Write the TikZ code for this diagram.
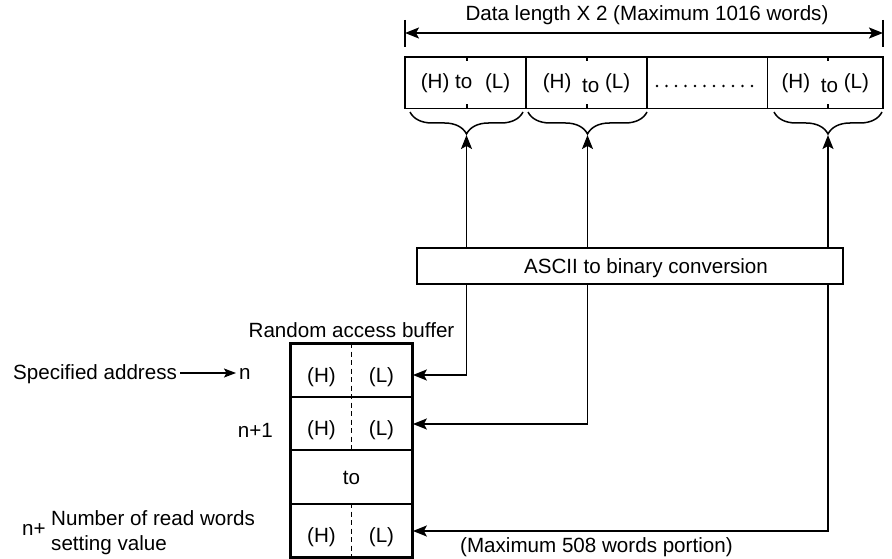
\documentclass[tikz,border=0pt]{standalone}
\usepackage{fontspec}
\setmainfont{Liberation Sans}
\usetikzlibrary{arrows.meta,decorations.pathreplacing,calc}
\begin{document}
\begin{tikzpicture}[x=1pt,y=-1pt,
  every node/.style={font=\fontsize{20.6}{24}\selectfont, inner sep=0pt},
  cell/.style={draw, line width=1.8pt, minimum width=121pt, minimum height=51.5pt},
  rowbox/.style={draw, line width=1.7pt, minimum width=121pt, minimum height=53pt},
  txt/.style={anchor=base},
  arr/.style={line width=1.4pt, -{Stealth[length=12pt,width=9pt,inset=2.5pt]}},
  darr/.style={line width=1.6pt, {Stealth[length=14pt,width=11pt,inset=3pt]}-{Stealth[length=14pt,width=11pt,inset=3pt]}},
  brc/.style={decorate, decoration={brace, mirror, amplitude=22pt}, line width=1.5pt},
  dashdiv/.style={line width=1.3pt, dash pattern=on 5pt off 3.5pt},
  tick/.style={line width=1.2pt},
]
\useasboundingbox (0,0) rectangle (892,559);

% dimension line
\coordinate (dl) at (405,33);
\coordinate (dr) at (883,33);
\draw[line width=1.6pt] (405,20) -- (405,47);
\draw[line width=1.6pt] (883,20) -- (883,47);
\draw[darr] (dl) -- (dr);
\node[txt] (dimtxt) at (647,21) {Data length X 2 (Maximum 1016 words)};

% top data cells
\node[cell] (c1) at (465.5,82.75) {(H) to\hspace{7pt} (L)};
\node[cell] (c2) at (586.5,82.75) {(H)\hspace{5pt} \smash{\raisebox{-4pt}{to}} (L)};
\node[cell] (c3) at (707,82.75) {};
\node[cell, minimum width=115.5pt] (c4) at (825.25,82.75) {(H)\hspace{5pt} \smash{\raisebox{-4pt}{to}} (L)};
\foreach \i in {0,...,10} \fill (657+9.5*\i,86) circle (1.3pt);
\foreach \x in {467,587,828} {
  \draw[tick] (\x,57) -- (\x,61);
  \draw[tick] (\x,104.5) -- (\x,108.5);
}

% braces
\draw[brc] (410,112) -- (523,112);
\draw[brc] (528,112) -- (647,112);
\draw[brc] (774,112) -- (882,112);
\coordinate (b1) at (466.5,135);
\coordinate (b2) at (587.5,135);
\coordinate (b3) at (828,135);

% random access buffer
\node[rowbox] (r1) at (351.5,370.5) {};
\node[rowbox] (r2) at (351.5,423.5) {};
\node[rowbox] (r3) at (351.5,477) {};
\node[rowbox] (r4) at (351.5,530.5) {};
\draw[line width=2.4pt] (r1.north west) rectangle (r4.south east);
\draw[dashdiv] (r1.north) -- (r2.south);
\draw[dashdiv] (r4.north) -- (r4.south);
\node[txt] (r1h) at (321.5,382) {(H)};
\node[txt] (r1l) at (381.5,382) {(L)};
\node[txt] (r2h) at (321.5,435) {(H)};
\node[txt] (r2l) at (381.5,435) {(L)};
\node[txt] (r3t) at (351.5,484) {to};
\node[txt] (r4h) at (321.5,542) {(H)};
\node[txt] (r4l) at (381.5,542) {(L)};

\node[txt] (rab) at (351.5,337) {Random access buffer};
\node[anchor=base west] (spec) at (13,379) {Specified address};
\node[anchor=base west] (nlab) at (239,379) {n};
\draw[arr] ($(spec.base east)+(3,-6)$) -- ($(nlab.base west)+(-3,-6)$);
\node[anchor=base east] (n1) at (273,437) {n+1};
\node[anchor=base west] (nplus) at (22,535) {n+};
\node[anchor=base west] (nrw1) at (51,525) {Number of read words};
\node[anchor=base west] (nrw2) at (51,550) {setting value};
\node[anchor=base west] (maxw) at (460,552) {(Maximum 508 words portion)};

% connectors
\draw[darr] ($(r1.east)+(0,4.5)$) -| (b1);
\draw[darr] ($(r2.east)+(0,0.5)$) -| (b2);
\draw[darr] ($(r4.east)+(0,0.5)$) -| (b3);

% conversion box (over the lines)
\node[draw, fill=white, line width=1.5pt, minimum width=426pt, minimum height=36pt] (conv) at (630,266) {};
\node[txt] (convtxt) at (646,273) {ASCII to binary conversion};
\end{tikzpicture}
\end{document}
